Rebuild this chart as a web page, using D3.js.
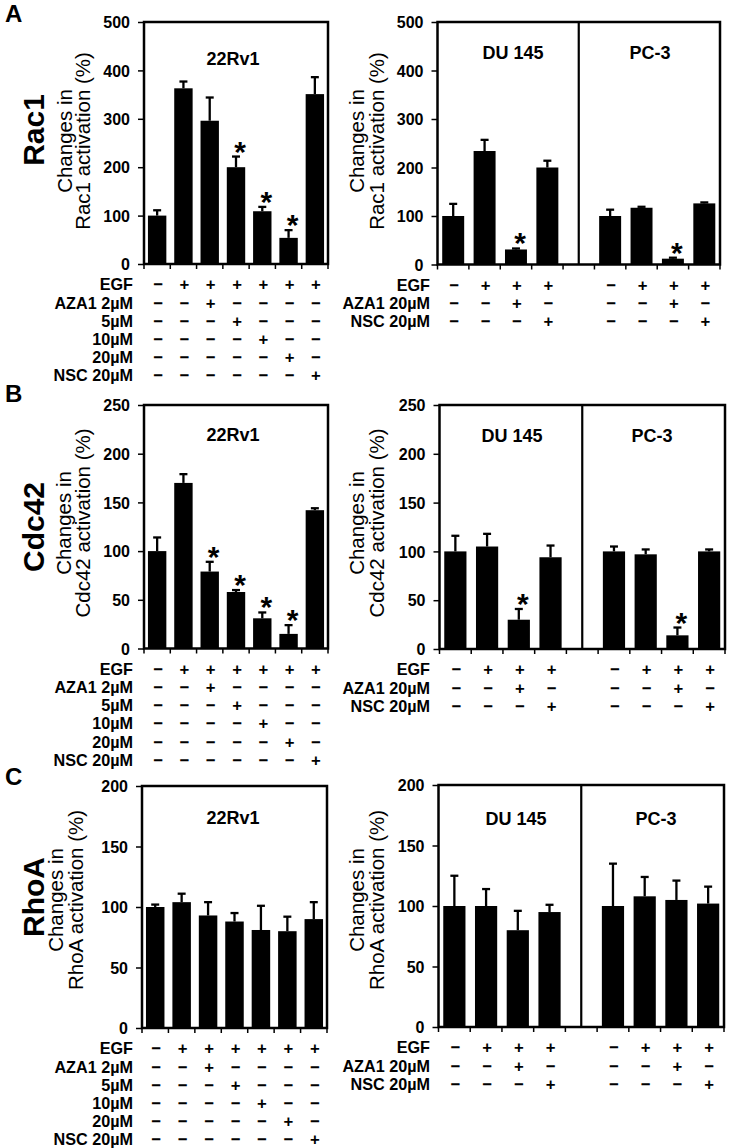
<!DOCTYPE html>
<html><head><meta charset="utf-8">
<script src="https://cdn.jsdelivr.net/npm/d3@7"></script>
<style>
body{margin:0;background:#fff}
svg{display:block}
text{font-family:"Liberation Sans",Arial,Helvetica,sans-serif;fill:#000}
</style>
</head><body>
<svg id="chart" width="734" height="1148"></svg>
<script>
// ---------------- DATA ----------------
const leftCats  = ["c1","c2","c3","c4","c5","c6","c7"];
const rightCats = ["DU1","DU2","DU3","DU4","gap","PC1","PC2","PC3","PC4"];
const duCats = ["DU1","DU2","DU3","DU4"];
const pcCats = ["PC1","PC2","PC3","PC4"];

const rac1Ticks  = [0,100,200,300,400,500];
const cdc42Ticks = [0,50,100,150,200,250];
const rhoaTicks  = [0,50,100,150,200];

// Rac1
const rac1_22Rv1     = [100,363,296,200,109,54,351];
const rac1_22Rv1_err = [11,14,48,22,9,16,35];
const rac1_22Rv1_sig = [0,0,0,1,1,1,0];
const rac1_DU145     = [100,234,31,200];
const rac1_DU145_err = [25,23,2,14];
const rac1_DU145_sig = [0,0,1,0];
const rac1_PC3       = [100,117,12,126];
const rac1_PC3_err   = [13,2,2,2];
const rac1_PC3_sig   = [0,0,1,0];

// Cdc42
const cdc42_22Rv1     = [100,170,79,58,31,15,142];
const cdc42_22Rv1_err = [14,9,10,2,6,9,2];
const cdc42_22Rv1_sig = [0,0,1,1,1,1,0];
const cdc42_DU145     = [100,105,30,94];
const cdc42_DU145_err = [16,13,11,12];
const cdc42_DU145_sig = [0,0,1,0];
const cdc42_PC3       = [100,97,14,100];
const cdc42_PC3_err   = [5,5,8,2];
const cdc42_PC3_sig   = [0,0,1,0];

// RhoA
const rhoa_22Rv1     = [100,104,93,88,81,80,90];
const rhoa_22Rv1_err = [2,7,11,7,20,12,14];
const rhoa_22Rv1_sig = [0,0,0,0,0,0,0];
const rhoa_DU145     = [100,100,80,95];
const rhoa_DU145_err = [25,14,16,6];
const rhoa_DU145_sig = [0,0,0,0];
const rhoa_PC3       = [100,108,105,102];
const rhoa_PC3_err   = [35,16,16,14];
const rhoa_PC3_sig   = [0,0,0,0];

// treatment tables
const leftTreatLabels  = ["EGF","AZA1 2µM","5µM","10µM","20µM","NSC 20µM"];
const leftTreatSigns = [
  ["−","+","+","+","+","+","+"],
  ["−","−","+","−","−","−","−"],
  ["−","−","−","+","−","−","−"],
  ["−","−","−","−","+","−","−"],
  ["−","−","−","−","−","+","−"],
  ["−","−","−","−","−","−","+"]
];
const rightTreatLabels = ["EGF","AZA1 20µM","NSC 20µM"];
const rightTreatSigns = [
  ["−","+","+","+"],
  ["−","−","+","−"],
  ["−","−","−","+"]
];

// ---------------- LAYOUT ----------------
const FONT = '"Liberation Sans",Arial,Helvetica,sans-serif';
const svg = d3.select("#chart");
const TREAT_FS = 16.2, TREAT_STEP = 18.2;

const rows = [
  { letter:"A", gene:"Rac1", letterY:22, geneY:130,
    ylabel:"Rac1 activation (%)", ticks:rac1Ticks,
    L:{x0:144,x1:328,top:22,zero:264, titleY:65, titleX:233, ylx:[71.5,90], ylcy:141},
    R:{x0:437.5,x1:720,top:22,zero:264.5, titleY:59, duX:513, pcX:650, ylx:[364,384], ylcy:141},
    left:[rac1_22Rv1,rac1_22Rv1_err,rac1_22Rv1_sig],
    du:[rac1_DU145,rac1_DU145_err,rac1_DU145_sig],
    pc:[rac1_PC3,rac1_PC3_err,rac1_PC3_sig] },
  { letter:"B", gene:"Cdc42", letterY:402, geneY:527,
    ylabel:"Cdc42 activation (%)", ticks:cdc42Ticks,
    L:{x0:144,x1:328,top:405,zero:648.5, titleY:440.5, titleX:233, ylx:[70.5,89.5], ylcy:523},
    R:{x0:439.5,x1:725,top:405,zero:649, titleY:441.5, duX:512, pcX:652, ylx:[364,384], ylcy:523},
    left:[cdc42_22Rv1,cdc42_22Rv1_err,cdc42_22Rv1_sig],
    du:[cdc42_DU145,cdc42_DU145_err,cdc42_DU145_sig],
    pc:[cdc42_PC3,cdc42_PC3_err,cdc42_PC3_sig] },
  { letter:"C", gene:"RhoA", letterY:785, geneY:897,
    ylabel:"RhoA activation (%)", ticks:rhoaTicks,
    L:{x0:142,x1:327,top:786,zero:1028, titleY:824, titleX:233, ylx:[63,82.5], ylcy:900},
    R:{x0:438.5,x1:724,top:785,zero:1027, titleY:825, duX:516, pcX:656, ylx:[364,384], ylcy:900},
    left:[rhoa_22Rv1,rhoa_22Rv1_err,rhoa_22Rv1_sig],
    du:[rhoa_DU145,rhoa_DU145_err,rhoa_DU145_sig],
    pc:[rhoa_PC3,rhoa_PC3_err,rhoa_PC3_sig] }
];

function drawPanel(p, cats, series, ticks, ylabelLines, treat, titles, isRight) {
  const g = svg.append("g");
  const x = d3.scaleBand().domain(cats).range([p.x0, p.x1]).paddingInner(0.3).paddingOuter(0.15);
  const y = d3.scaleLinear().domain([0, d3.max(ticks)]).range([p.zero, p.top]);
  const step = x.step();
  const bw = x.bandwidth();

  // bars
  const bars = [];
  series.forEach(s => s.cats.forEach((c,i) => bars.push({c, v:s.v[i], e:s.e[i], s:s.s[i]})));
  g.selectAll("rect.bar").data(bars).join("rect")
    .attr("x", d => x(d.c)).attr("width", bw)
    .attr("y", d => y(d.v)).attr("height", d => y(0) - y(d.v))
    .attr("fill", "#000");
  // error bars
  const cap = 8;
  g.selectAll("line.err").data(bars).join("line")
    .attr("x1", d => x(d.c)+bw/2).attr("x2", d => x(d.c)+bw/2)
    .attr("y1", d => y(d.v)).attr("y2", d => y(d.v+d.e))
    .attr("stroke","#000").attr("stroke-width",2.3);
  g.selectAll("line.cap").data(bars).join("line")
    .attr("x1", d => x(d.c)+bw/2-cap/2).attr("x2", d => x(d.c)+bw/2+cap/2)
    .attr("y1", d => y(d.v+d.e)).attr("y2", d => y(d.v+d.e))
    .attr("stroke","#000").attr("stroke-width",2.3);
  // asterisks
  g.selectAll("text.sig").data(bars.filter(d => d.s)).join("text")
    .attr("x", d => x(d.c)+bw/2+4).attr("y", d => y(d.v+d.e) + 5)
    .attr("text-anchor","middle").attr("font-size",30).attr("font-weight","bold")
    .text("*");

  // x ticks at category boundaries
  const bounds = d3.range(cats.length+1).map(k => p.x0 + k*step);
  g.selectAll("line.xt").data(bounds).join("line")
    .attr("x1", d=>d).attr("x2", d=>d).attr("y1", p.zero).attr("y2", p.zero+5)
    .attr("stroke","#000").attr("stroke-width",1.5);

  // y axis
  const ax = g.append("g").attr("transform", `translate(${p.x0},0)`)
    .call(d3.axisLeft(y).tickValues(ticks).tickSize(6).tickPadding(8));
  ax.select(".domain").remove();
  ax.selectAll(".tick line").attr("stroke","#000").attr("stroke-width",1.5);
  ax.selectAll(".tick text").attr("font-family",FONT).attr("font-size",16)
    .attr("font-weight","bold").attr("fill","#000").attr("dy","0.36em");

  // frame
  g.append("rect").attr("x",p.x0).attr("y",p.top)
    .attr("width",p.x1-p.x0).attr("height",p.zero-p.top)
    .attr("fill","none").attr("stroke","#000").attr("stroke-width",2.5);
  if (isRight) {
    const xm = x("gap") + bw/2;
    g.append("line").attr("x1",xm).attr("x2",xm).attr("y1",p.top).attr("y2",p.zero)
      .attr("stroke","#000").attr("stroke-width",2.2);
  }

  // titles
  titles.forEach(t => g.append("text").attr("x",t.x).attr("y",p.titleY)
    .attr("text-anchor","middle").attr("font-size",18).attr("font-weight","bold").text(t.text));

  // y label: one text block with two lines
  const yl = g.append("text")
    .attr("transform",`translate(${p.ylx[0]},${p.ylcy}) rotate(-90)`)
    .attr("text-anchor","middle").attr("font-size",20.5);
  ylabelLines.forEach((ln,i) => yl.append("tspan").attr("x",0)
    .attr("y", i === 0 ? 0 : p.ylx[1]-p.ylx[0]).text(ln));

  // treatment table
  const rowY = k => p.zero + 20.5 + k*TREAT_STEP + 0.36*TREAT_FS;
  treat.labels.forEach((t,k) => g.append("text").attr("x",treat.labelX).attr("y",rowY(k))
    .attr("text-anchor","end").attr("font-size",TREAT_FS).attr("font-weight","bold").text(t));
  treat.groups.forEach(grp => {
    grp.forEach((c,i) => {
      treat.labels.forEach((_,k) => g.append("text")
        .attr("x", x(c)+bw/2+1).attr("y", rowY(k))
        .attr("text-anchor","middle").attr("font-size",TREAT_FS+0.5).attr("font-weight","bold")
        .text(treat.signs[k][i]));
    });
  });
}

rows.forEach(r => {
  svg.append("text").attr("x",5).attr("y",r.letterY).attr("font-size",24)
    .attr("font-weight","bold").text(r.letter);
  svg.append("text").attr("transform",`translate(44,${r.geneY}) rotate(-90)`)
    .attr("text-anchor","middle").attr("font-size",30).attr("font-weight","bold").text(r.gene);

  drawPanel(r.L, leftCats,
    [{cats:leftCats, v:r.left[0], e:r.left[1], s:r.left[2]}],
    r.ticks, ["Changes in", r.ylabel],
    {labels:leftTreatLabels, signs:leftTreatSigns, groups:[leftCats], labelX:133},
    [{text:"22Rv1", x:r.L.titleX}], false);

  drawPanel(r.R, rightCats,
    [{cats:duCats, v:r.du[0], e:r.du[1], s:r.du[2]},
     {cats:pcCats, v:r.pc[0], e:r.pc[1], s:r.pc[2]}],
    r.ticks, ["Changes in", r.ylabel],
    {labels:rightTreatLabels, signs:rightTreatSigns, groups:[duCats, pcCats], labelX:430},
    [{text:"DU 145", x:r.R.duX},{text:"PC-3", x:r.R.pcX}], true);
});
</script>
</body></html>
